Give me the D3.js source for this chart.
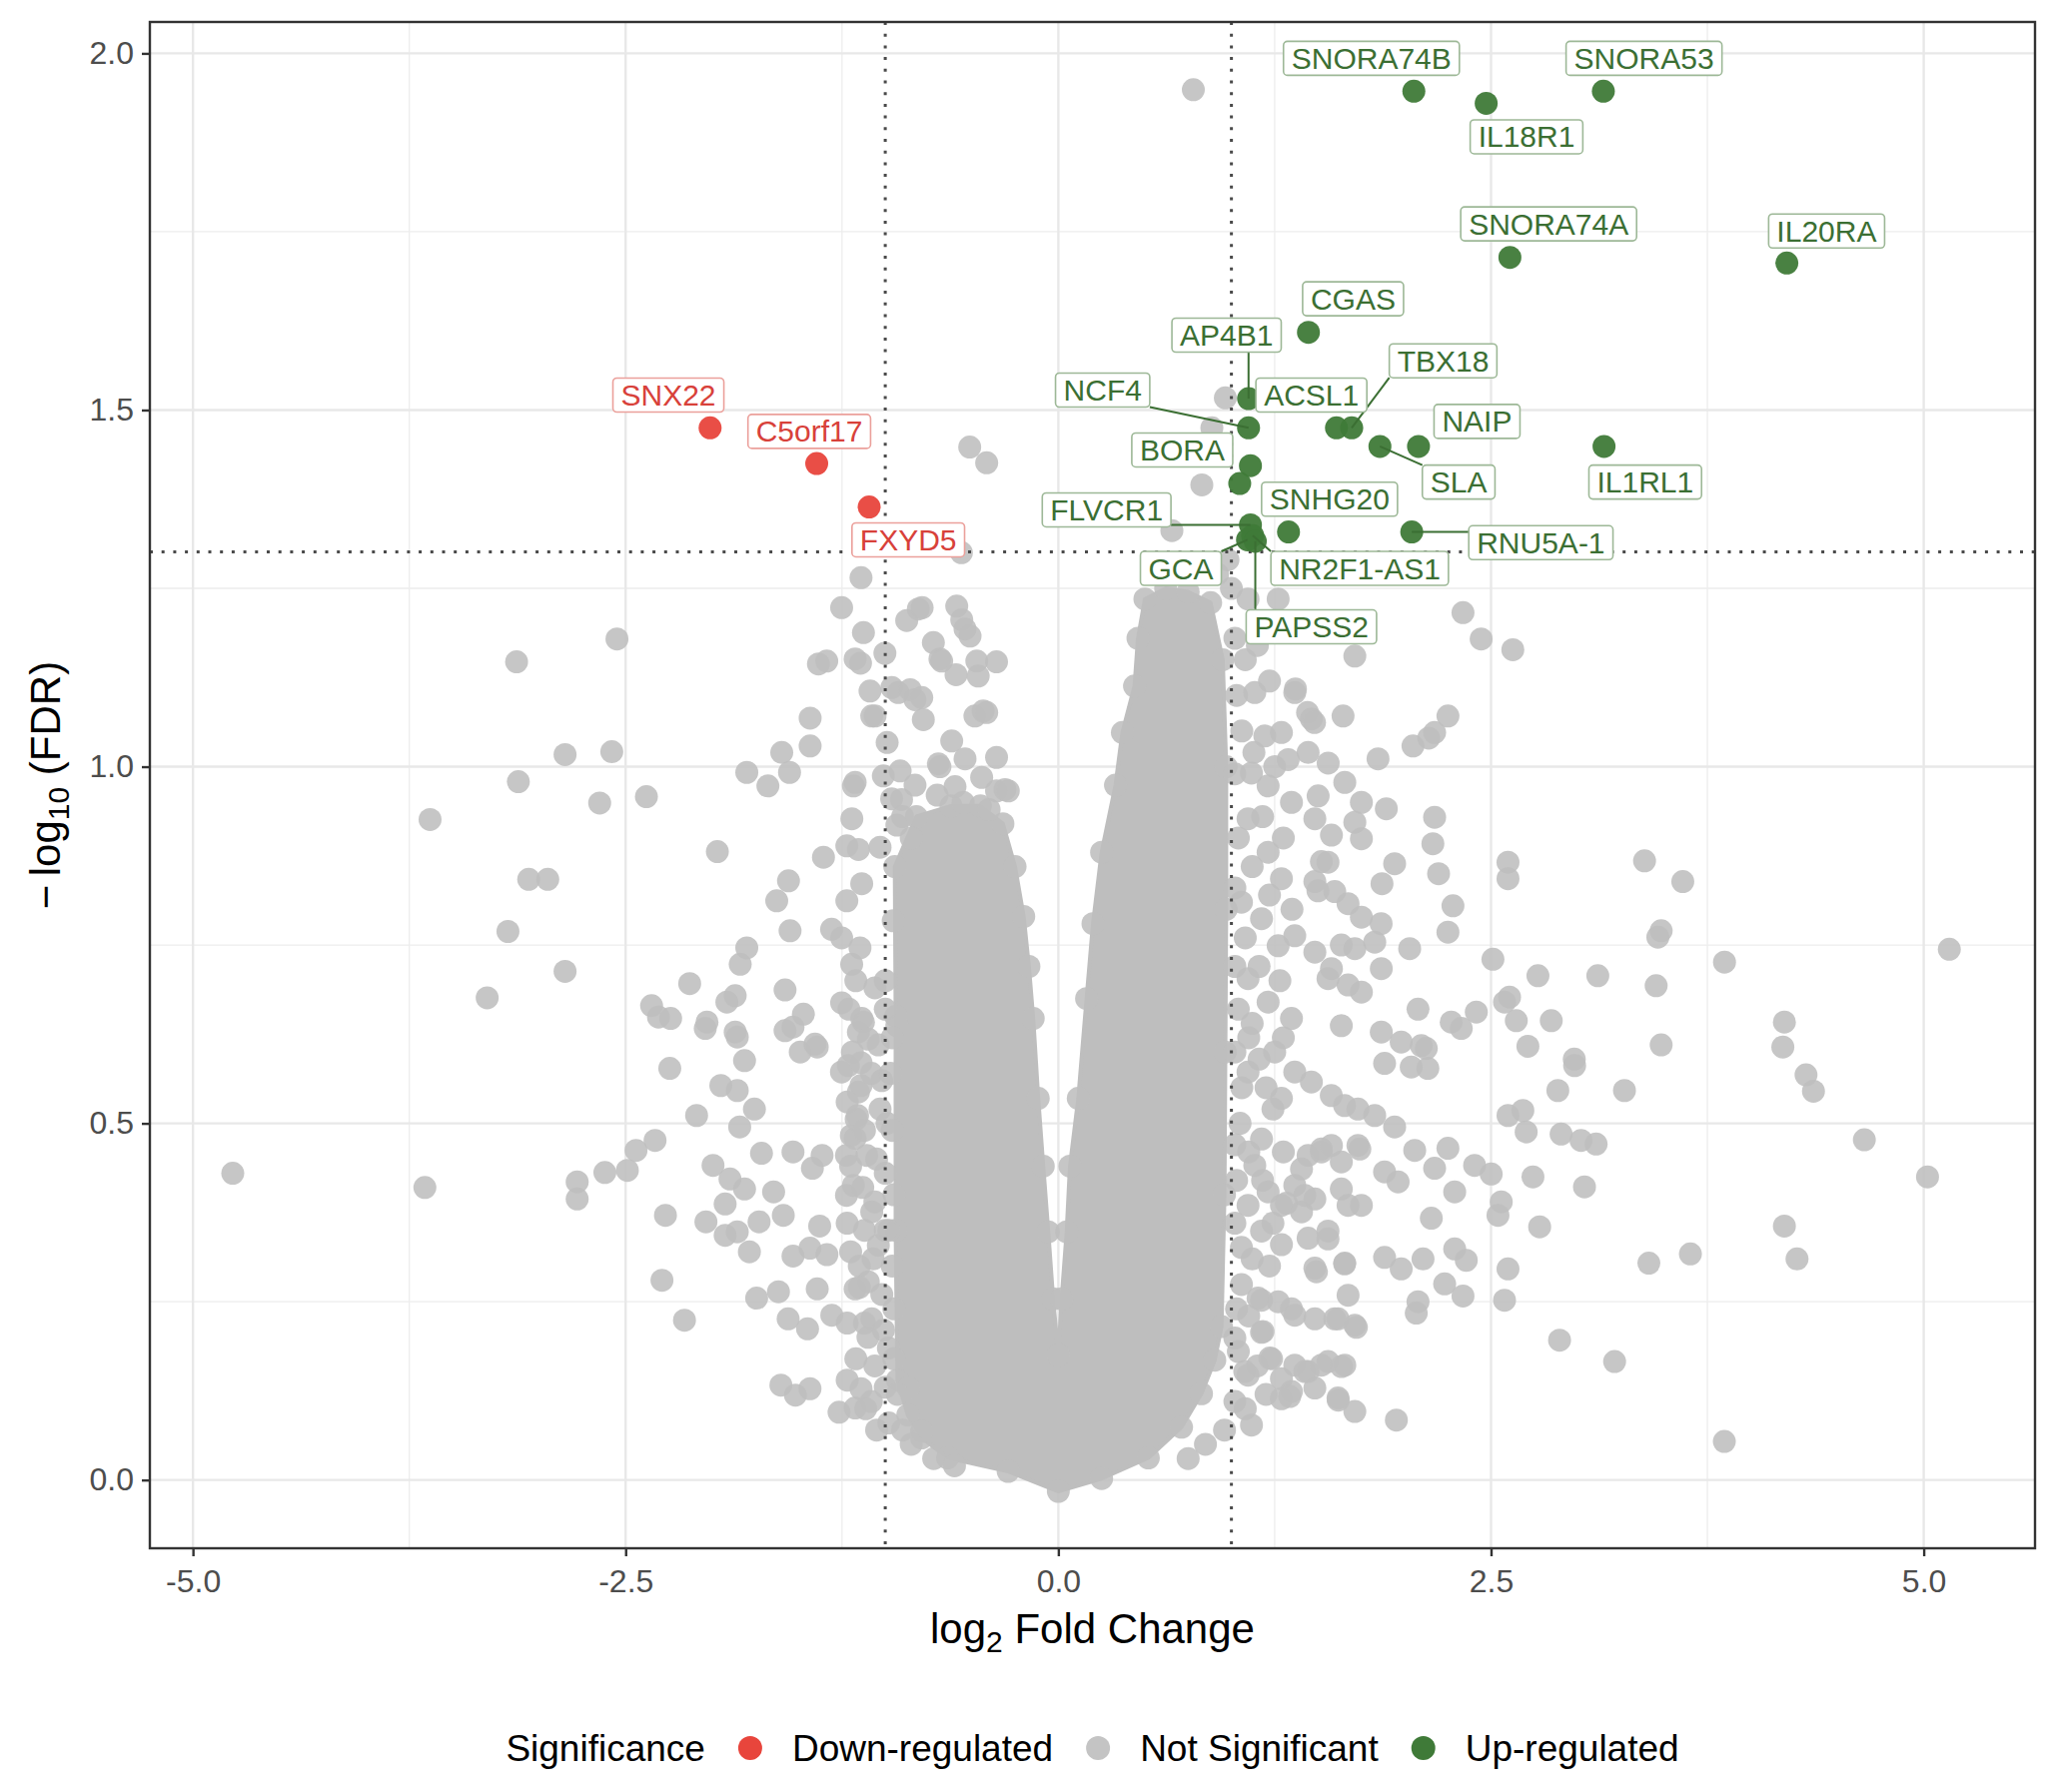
<!DOCTYPE html>
<html>
<head>
<meta charset="utf-8">
<script src="https://cdn.jsdelivr.net/npm/d3@7"></script>
<style>
  body { margin: 0; background: #fff; }
  svg text { font-family: "Liberation Sans", Arial, Helvetica, sans-serif; }
</style>
</head>
<body>
<div id="chart"></div>
<script>
// values: [log2 fold change, -log10 FDR]

// up-regulated (labelled) genes
const upGenes = ["SNORA74B", "IL18R1", "SNORA53", "SNORA74A", "IL20RA", "CGAS", "AP4B1", "NCF4", "ACSL1", "TBX18",
  "SLA", "NAIP", "IL1RL1", "BORA", "SNHG20", "FLVCR1", "RNU5A-1", "GCA", "NR2F1-AS1", "PAPSS2", ""];
const upLog2FC = [2.054, 2.472, 3.149, 2.609, 4.209, 1.445, 1.099, 1.099, 1.607, 1.695,
  1.858, 2.081, 3.153, 1.110, 1.330, 1.110, 2.042, 1.093, 1.123, 1.138, 1.048];
const upNegLogFDR = [1.947, 1.930, 1.947, 1.714, 1.706, 1.609, 1.516, 1.475, 1.475, 1.475,
  1.449, 1.449, 1.449, 1.422, 1.329, 1.339, 1.329, 1.318, 1.324, 1.316, 1.397];
// where the repelled labels ended up (data units)
const upLabelX = [1.809, 2.705, 3.384, 2.833, 4.439, 1.703, 0.972, 0.256, 1.462, 2.223,
  2.313, 2.419, 3.391, 0.716, 1.567, 0.279, 2.788, 0.708, 1.741, 1.462, null];
const upLabelY = [1.993, 1.883, 1.993, 1.761, 1.751, 1.656, 1.605, 1.528, 1.521, 1.569,
  1.399, 1.484, 1.399, 1.444, 1.375, 1.360, 1.314, 1.278, 1.278, 1.196, null];

// down-regulated genes
const downGenes = ["SNX22", "C5orf17", "FXYD5"];
const downLog2FC = [-2.012, -1.396, -1.093];
const downNegLogFDR = [1.475, 1.425, 1.364];
const downLabelX = [-2.253, -1.439, -0.867];
const downLabelY = [1.521, 1.470, 1.318];

// not significant genes, the scattered ones
const nsFarLeft = [
  [-4.77, 0.43], [-3.66, 0.41], [-3.63, 0.926], [-3.30, 0.676], [-3.18, 0.769], [-3.13, 1.147], [-3.12, 0.979],
  [-3.06, 0.842], [-2.95, 0.842], [-2.85, 1.017], [-2.85, 0.713], [-2.78, 0.418], [-2.78, 0.394], [-2.65, 0.949],
  [-2.62, 0.431], [-2.58, 1.021], [-2.55, 1.179], [-2.49, 0.434], [-2.44, 0.462], [-2.38, 0.958], [-2.35, 0.665],
  [-2.33, 0.476], [-2.31, 0.649], [-2.29, 0.280], [-2.27, 0.371], [-2.245, 0.577], [-2.24, 0.647], [-2.16, 0.224],
  [-2.13, 0.696], [-2.09, 0.511], [-2.04, 0.633], [-2.03, 0.642], [-2.036, 0.362], [-1.995, 0.441], [-1.97, 0.881],
  [-1.95, 0.553], [-1.925, 0.387], [-1.925, 0.343], [-1.915, 0.670], [-1.897, 0.422], [-1.867, 0.679], [-1.867, 0.628],
  [-1.855, 0.621], [-1.855, 0.546], [-1.855, 0.348], [-1.841, 0.495], [-1.838, 0.723], [-1.813, 0.588], [-1.813, 0.408],
  [-1.80, 0.746], [-1.80, 0.992], [-1.785, 0.320], [-1.756, 0.520], [-1.743, 0.255], [-1.729, 0.362], [-1.715, 0.458],
  [-1.678, 0.973], [-1.645, 0.404], [-1.627, 0.812], [-1.617, 0.264], [-1.603, 0.133], [-1.598, 1.020], [-1.589, 0.371],
  [-1.579, 0.687], [-1.579, 0.630], [-1.561, 0.226], [-1.559, 0.840], [-1.553, 0.992], [-1.550, 0.770], [-1.533, 0.460],
  [-1.533, 0.635], [-1.533, 0.314], [-1.519, 0.119], [-1.491, 0.600], [-1.473, 0.653], [-1.449, 0.212], [-1.435, 0.325],
  [-1.435, 0.128], [-1.434, 1.068], [-1.434, 1.029], [-1.421, 0.437], [-1.406, 0.611], [-1.393, 0.607], [-1.393, 0.268],
  [-1.386, 1.144], [-1.379, 0.356], [-1.365, 0.455], [-1.357, 0.873], [-1.338, 1.148], [-1.337, 0.316]
];
const nsLeftShoulder = [
  [-1.310, 0.772], [-1.309, 0.231], [-1.267, 0.095], [-1.253, 0.572], [-1.252, 1.223], [-1.252, 0.760], [-1.252, 0.669],
  [-1.224, 0.399], [-1.224, 0.455], [-1.222, 0.889], [-1.222, 0.812], [-1.213, 0.581], [-1.196, 0.483], [-1.194, 0.723],
  [-1.193, 0.927], [-1.184, 0.973], [-1.184, 0.413], [-1.174, 1.151], [-1.174, 0.978], [-1.174, 0.479], [-1.174, 0.101],
  [-1.168, 0.506], [-1.155, 0.884], [-1.155, 0.628], [-1.155, 0.544], [-1.146, 0.746], [-1.143, 1.145], [-1.140, 1.265],
  [-1.140, 0.553], [-1.140, 0.585], [-1.140, 0.128], [-1.136, 0.836], [-1.136, 0.647], [-1.126, 0.642], [-1.126, 1.188],
  [-1.113, 0.100], [-1.107, 0.455], [-1.098, 0.618], [-1.088, 1.106], [-1.078, 1.071], [-1.078, 0.376], [-1.059, 1.071],
  [-1.030, 0.887], [-1.011, 0.987], [-1.002, 1.159], [-0.989, 1.034], [-0.982, 0.185], [-0.962, 1.111], [-0.963, 0.955],
  [-0.954, 0.784], [-0.933, 0.918], [-0.933, 0.637], [-0.925, 1.104], [-0.914, 0.994], [-0.906, 0.954], [-1.040, 0.329],
  [-1.098, 0.278], [-1.174, 0.268], [-1.078, 0.226], [-0.867, 0.129], [-0.790, 0.068], [-1.160, 0.511], [-1.150, 0.300],
  [-1.050, 0.450], [-1.020, 0.560], [-1.100, 0.200], [-1.000, 0.700], [-0.990, 0.500], [-0.980, 0.350]
];
// the crowded band just left of the -1 cut-off
const nsLeftDense = [
  [-1.21, 0.66], [-1.17, 0.70], [-1.06, 0.69], [-1.00, 0.66], [-0.96, 0.62], [-1.04, 0.61], [-1.19, 0.60],
  [-1.08, 0.57], [-0.97, 0.57], [-1.22, 0.53], [-1.03, 0.52], [-0.96, 0.49], [-1.12, 0.49], [-1.20, 0.44],
  [-1.00, 0.43], [-0.95, 0.40], [-1.13, 0.41], [-1.06, 0.39], [-1.22, 0.36], [-1.12, 0.35], [-1.00, 0.35],
  [-0.96, 0.30], [-1.20, 0.32], [-1.07, 0.31], [-1.15, 0.27], [-1.02, 0.26], [-0.95, 0.24], [-1.22, 0.22],
  [-1.12, 0.22], [-1.01, 0.21], [-0.95, 0.17], [-1.17, 0.17], [-1.06, 0.16], [-1.22, 0.14], [-1.00, 0.13],
  [-0.93, 0.12], [-1.08, 0.11], [-0.98, 0.08], [-0.90, 0.07], [-1.05, 0.07], [-0.85, 0.05], [-0.72, 0.03],
  [-0.60, 0.02], [-0.70, 0.96], [-0.55, 0.95], [-0.40, 0.94], [-0.85, 0.90], [-0.90, 0.93]
];
const nsUpperLeft = [
  [-0.876, 1.205], [-0.856, 1.108], [-0.828, 1.094], [-0.828, 0.974], [-0.809, 1.221], [-0.789, 1.097], [-0.787, 1.223],
  [-0.780, 1.066], [-0.722, 1.174], [-0.693, 1.004], [-0.684, 1.151], [-0.684, 1.000], [-0.674, 1.148], [-0.616, 1.036],
  [-0.597, 0.972], [-0.591, 1.129], [-0.587, 1.225], [-0.558, 1.206], [-0.539, 1.193], [-0.539, 1.011], [-0.510, 1.183],
  [-0.482, 1.071], [-0.471, 1.148], [-0.463, 1.127], [-0.443, 0.985], [-0.434, 1.078], [-0.414, 1.076], [-0.357, 1.147],
  [-0.357, 1.013], [-0.357, 0.966], [-0.308, 0.968], [-0.289, 0.966], [-0.512, 1.448], [-0.414, 1.426], [-0.56, 1.30]
];
const nsTop = [[0.78, 1.949], [0.965, 1.517], [0.887, 1.475], [0.829, 1.395], [0.656, 1.331],
  [0.92, 1.27], [0.98, 1.29], [0.86, 1.28], [1.00, 1.25]];
// the crowded band just right of the +1 cut-off
const nsRightDense = [
  [1.02, 1.18], [1.08, 1.15], [1.15, 1.17], [1.03, 1.10], [1.22, 1.12], [1.06, 1.05], [1.13, 1.02], [1.02, 0.99],
  [1.25, 1.00], [1.18, 0.93], [1.04, 0.90], [1.30, 0.90], [1.12, 0.86], [1.02, 0.83], [1.22, 0.82], [1.35, 0.80],
  [1.08, 0.76], [1.02, 0.72], [1.16, 0.72], [1.28, 0.70], [1.04, 0.66], [1.12, 0.64], [1.30, 0.62], [1.02, 0.60],
  [1.16, 0.59], [1.06, 0.55], [1.24, 0.52], [1.02, 0.47], [1.10, 0.46], [1.30, 0.46], [1.03, 0.42], [1.18, 0.42],
  [1.24, 0.36], [1.02, 0.36], [1.12, 0.31], [1.22, 0.30], [1.03, 0.24], [1.10, 0.23], [1.27, 0.25], [1.04, 0.18],
  [1.15, 0.16], [1.02, 0.11], [1.08, 0.10], [0.96, 0.07], [1.20, 0.12], [0.85, 0.05], [0.75, 0.03]
];
const nsRightInner = [
  [1.096, 1.235], [1.27, 1.235], [1.135, 1.104], [1.366, 1.104], [1.193, 1.043], [1.289, 1.048], [1.462, 1.067],
  [1.443, 1.020], [1.328, 1.010], [1.559, 1.005], [1.116, 0.991], [1.212, 0.973], [1.347, 0.950], [1.501, 0.959],
  [1.655, 0.978], [1.751, 0.950], [1.482, 0.927], [1.578, 0.904], [1.713, 0.922], [1.751, 0.899], [1.096, 0.927],
  [1.212, 0.880], [1.289, 0.843], [1.520, 0.867], [1.482, 0.839], [1.597, 0.825], [1.674, 0.808], [1.751, 0.789],
  [1.058, 0.810], [1.174, 0.787], [1.270, 0.749], [1.366, 0.763], [1.482, 0.740], [1.578, 0.717], [1.674, 0.694],
  [1.713, 0.745], [1.096, 0.703], [1.212, 0.670], [1.347, 0.647], [1.713, 1.155], [1.37, 1.109], [1.44, 1.076],
  [1.48, 1.062], [1.645, 1.071], [1.847, 1.011], [2.049, 1.029], [2.14, 1.04], [2.174, 1.048], [2.251, 1.071],
  [1.895, 0.941], [1.943, 0.864], [1.870, 0.836], [1.828, 0.754], [1.865, 0.78], [2.03, 0.745], [1.558, 0.866],
  [1.50, 0.826], [1.866, 0.717], [1.751, 0.684], [1.635, 0.637], [1.866, 0.628], [1.981, 0.614], [2.097, 0.609],
  [1.558, 0.703], [1.635, 0.75], [1.096, 0.572], [1.366, 0.572], [1.289, 0.535], [1.462, 0.558], [1.174, 0.478],
  [1.25, 0.60], [1.05, 0.50], [1.10, 0.62], [1.20, 0.55]
];
const nsRightLower = [
  [1.577, 0.539], [1.654, 0.525], [1.731, 0.520], [1.443, 0.455], [1.520, 0.464], [1.635, 0.446], [1.731, 0.469],
  [1.366, 0.413], [1.289, 0.385], [1.405, 0.376], [1.482, 0.394], [1.635, 0.408], [1.674, 0.385], [1.135, 0.441],
  [1.212, 0.404], [1.096, 0.385], [1.174, 0.349], [1.289, 0.330], [1.443, 0.339], [1.558, 0.349], [1.655, 0.304],
  [1.482, 0.297], [1.674, 0.259], [1.058, 0.326], [1.154, 0.255], [1.058, 0.274], [1.347, 0.240], [1.482, 0.226],
  [1.597, 0.226], [1.713, 0.217], [1.174, 0.207], [1.232, 0.170], [1.289, 0.142], [1.366, 0.161], [1.443, 0.152],
  [1.558, 0.166], [1.655, 0.161], [1.347, 0.124], [1.482, 0.129], [1.616, 0.115], [1.713, 0.096], [1.077, 0.152],
  [1.020, 0.199], [1.289, 0.114], [1.953, 0.084], [1.116, 0.077], [1.617, 0.112], [2.251, 0.465], [2.174, 0.437],
  [2.290, 0.404], [2.405, 0.441], [2.501, 0.429], [2.155, 0.367], [2.29, 0.324], [2.357, 0.308], [2.232, 0.275],
  [2.338, 0.258], [2.078, 0.250], [2.068, 0.234], [1.885, 0.312], [1.981, 0.296], [2.107, 0.310], [1.885, 0.432],
  [1.963, 0.418], [2.059, 0.462], [1.943, 0.495], [1.828, 0.511], [1.885, 0.584], [2.039, 0.579], [2.135, 0.577],
  [2.126, 0.605], [1.742, 0.464], [1.751, 0.385], [1.558, 0.338], [1.491, 0.292], [1.654, 0.303], [1.366, 0.231],
  [1.616, 0.226], [1.722, 0.214], [1.183, 0.208], [1.222, 0.171], [1.424, 0.152], [1.520, 0.161], [1.636, 0.159],
  [1.337, 0.117], [1.174, 0.252], [1.318, 0.388], [1.424, 0.399], [1.405, 0.436], [1.520, 0.460], [1.578, 0.469],
  [1.096, 0.147]
];
const nsFarRight = [
  [2.338, 1.216], [2.443, 1.179], [2.626, 1.164], [2.174, 0.929], [2.164, 0.892], [2.197, 0.850], [2.598, 0.866],
  [2.598, 0.843], [2.28, 0.805], [2.251, 0.768], [3.387, 0.868], [3.608, 0.839], [3.483, 0.770], [3.464, 0.761],
  [3.849, 0.726], [2.511, 0.730], [2.771, 0.707], [3.117, 0.707], [3.454, 0.693], [2.078, 0.66], [2.415, 0.656],
  [2.27, 0.642], [2.328, 0.633], [2.607, 0.677], [2.578, 0.670], [2.646, 0.644], [2.848, 0.644], [2.713, 0.608],
  [3.483, 0.610], [2.981, 0.59], [5.148, 0.744], [4.195, 0.642], [4.186, 0.607], [4.32, 0.568], [4.363, 0.545],
  [4.657, 0.477], [5.022, 0.425], [4.195, 0.356], [4.268, 0.310], [3.412, 0.304], [3.652, 0.317], [3.848, 0.054],
  [2.983, 0.581], [2.886, 0.546], [3.271, 0.546], [2.598, 0.511], [2.684, 0.518], [2.703, 0.488], [2.905, 0.485],
  [3.02, 0.476], [3.107, 0.471], [2.742, 0.425], [3.040, 0.411], [2.559, 0.390], [2.54, 0.371], [2.781, 0.355],
  [2.598, 0.296], [2.578, 0.252], [2.896, 0.196], [3.214, 0.166]
];

// outline of the solid mass of thousands of overlapping non-significant points
const coreX = [0, -0.29, -0.64, -0.79, -0.87, -0.93, -0.94, -0.94, -0.945, -0.82, -0.62, -0.45, -0.32, -0.25,
  -0.2, -0.17, -0.145, -0.116, -0.087, -0.058, -0.03, 0, 0.019, 0.048, 0.067, 0.115, 0.163, 0.2, 0.25, 0.33, 0.37,
  0.44, 0.46, 0.5, 0.62, 0.75, 0.88, 0.95, 0.97, 0.97, 0.965, 0.96, 0.943, 0.904, 0.827, 0.712, 0.52, 0.25];
const coreY = [-0.016, 0.012, 0.031, 0.059, 0.091, 0.14, 0.35, 0.65, 0.86, 0.93, 0.945, 0.945, 0.92, 0.86,
  0.79, 0.72, 0.647, 0.535, 0.44, 0.348, 0.254, 0.175, 0.254, 0.348, 0.44, 0.535, 0.675, 0.78, 0.88, 0.974, 1.048,
  1.113, 1.18, 1.235, 1.25, 1.245, 1.23, 1.15, 1.0, 0.8, 0.6, 0.4, 0.215, 0.168, 0.121, 0.074, 0.031, 0.002];

// ticks and cut-offs
const xTicks = [-5, -2.5, 0, 2.5, 5];
const xMinor = [-3.75, -1.25, 1.25, 3.75];
const yTicks = [0, 0.5, 1, 1.5, 2];
const yMinor = [0.25, 0.75, 1.25, 1.75];
const fcCut = [-1, 1];
const fdrCut = -Math.log10(0.05);

const legendKeys = ["Down-regulated", "Not Significant", "Up-regulated"];
const legendColors = ["#e8453c", "#c4c4c4", "#3f7a38"];

// ---------------------------------------------------------------
var width = 2047,
  height = 1794;
var margin = { top: 22, right: 10, bottom: 244, left: 150 },
  panelW = width - margin.left - margin.right,
  panelH = height - margin.top - margin.bottom;

var redCol = "#e8453c",
  greenCol = "#3f7a38",
  greyCol = "#bebebe",
  dotR = 11.5;

let svg = d3
  .select("#chart")
  .append("svg")
  .attr("width", width)
  .attr("height", height);

svg.append("rect").attr("width", width).attr("height", height).attr("fill", "white");

let x = d3.scaleLinear().domain([-5.249, 5.643]).range([margin.left, margin.left + panelW]);
let y = d3.scaleLinear().domain([-0.0957, 2.044]).range([margin.top + panelH, margin.top]);

// grid
let grid = svg.append("g");
grid.selectAll(".xmin").data(xMinor).enter().append("line")
  .attr("x1", d => x(d)).attr("x2", d => x(d))
  .attr("y1", margin.top).attr("y2", margin.top + panelH)
  .attr("stroke", "#ededed").attr("stroke-width", 1.3);
grid.selectAll(".ymin").data(yMinor).enter().append("line")
  .attr("y1", d => y(d)).attr("y2", d => y(d))
  .attr("x1", margin.left).attr("x2", margin.left + panelW)
  .attr("stroke", "#ededed").attr("stroke-width", 1.3);
grid.selectAll(".xmaj").data(xTicks).enter().append("line")
  .attr("x1", d => x(d)).attr("x2", d => x(d))
  .attr("y1", margin.top).attr("y2", margin.top + panelH)
  .attr("stroke", "#e8e8e8").attr("stroke-width", 2.4);
grid.selectAll(".ymaj").data(yTicks).enter().append("line")
  .attr("y1", d => y(d)).attr("y2", d => y(d))
  .attr("x1", margin.left).attr("x2", margin.left + panelW)
  .attr("stroke", "#e8e8e8").attr("stroke-width", 2.4);

// the dense core of the volcano
let core = d3.zip(coreX, coreY);
svg.append("path")
  .datum(core)
  .attr("d", d3.line().x(d => x(d[0])).y(d => y(d[1])).curve(d3.curveLinearClosed))
  .attr("fill", greyCol)
  .attr("stroke", greyCol)
  .attr("stroke-width", 4)
  .attr("stroke-linejoin", "round");

// grey points; the outline vertices get a dot too so the edge looks made of points
let nsAll = [].concat(core, nsFarLeft, nsLeftShoulder, nsLeftDense, nsUpperLeft, nsTop,
  nsRightDense, nsRightInner, nsRightLower, nsFarRight);
svg.append("g")
  .selectAll("circle")
  .data(nsAll)
  .enter()
  .append("circle")
  .attr("cx", d => x(d[0]))
  .attr("cy", d => y(d[1]))
  .attr("r", dotR)
  .attr("fill", greyCol)
  .attr("fill-opacity", 0.88);

// cut-off lines
let cut = svg.append("g")
  .attr("stroke", "#4a4a4a")
  .attr("stroke-width", 3)
  .attr("stroke-dasharray", "3,8.7");
cut.selectAll(".v").data(fcCut).enter().append("line")
  .attr("x1", d => x(d)).attr("x2", d => x(d))
  .attr("y1", margin.top).attr("y2", margin.top + panelH);
cut.append("line")
  .attr("x1", margin.left).attr("x2", margin.left + panelW)
  .attr("y1", y(fdrCut)).attr("y2", y(fdrCut));

// significant points
let down = d3.zip(downGenes, downLog2FC, downNegLogFDR, downLabelX, downLabelY);
let up = d3.zip(upGenes, upLog2FC, upNegLogFDR, upLabelX, upLabelY);

svg.append("g").selectAll("circle").data(down).enter().append("circle")
  .attr("cx", d => x(d[1])).attr("cy", d => y(d[2])).attr("r", dotR)
  .attr("fill", redCol).attr("fill-opacity", 0.95);
svg.append("g").selectAll("circle").data(up).enter().append("circle")
  .attr("cx", d => x(d[1])).attr("cy", d => y(d[2])).attr("r", dotR)
  .attr("fill", greenCol).attr("fill-opacity", 0.95);

// repelled labels
let segG = svg.append("g");
let labG = svg.append("g");

function drawLabels(rows, textCol, borderCol) {
  rows.forEach(function (d) {
    if (!d[0]) return;
    let px = x(d[1]), py = y(d[2]);
    let cx = x(d[3]), cy = y(d[4]);
    let g = labG.append("g");
    let box = g.append("rect");
    let t = g.append("text")
      .attr("x", cx)
      .attr("y", cy + 10.5)
      .attr("text-anchor", "middle")
      .style("font-size", "30px")
      .attr("fill", textCol)
      .text(d[0]);
    let w = t.node().getComputedTextLength();
    let bx0 = cx - w / 2 - 8, bx1 = cx + w / 2 + 8, by0 = cy - 17, by1 = cy + 17;
    box.attr("x", bx0).attr("y", by0)
      .attr("width", bx1 - bx0).attr("height", by1 - by0)
      .attr("rx", 4)
      .attr("fill", "white")
      .attr("stroke", borderCol)
      .attr("stroke-width", 1.6);
    // leader line to the nearest point of the box
    let qx = Math.max(bx0, Math.min(bx1, px));
    let qy = Math.max(by0, Math.min(by1, py));
    if (Math.hypot(qx - px, qy - py) > 24) {
      segG.append("line")
        .attr("x1", px).attr("y1", py)
        .attr("x2", qx).attr("y2", qy)
        .attr("stroke", textCol)
        .attr("stroke-width", 2);
    }
  });
}
drawLabels(down, "#d8413a", "#eba09b");
drawLabels(up, "#3b6f33", "#9db897");

// panel border
svg.append("rect")
  .attr("x", margin.left).attr("y", margin.top)
  .attr("width", panelW).attr("height", panelH)
  .attr("fill", "none").attr("stroke", "#333333").attr("stroke-width", 2.4);

// axes
let xAxis = svg.append("g")
  .attr("transform", "translate(0," + (margin.top + panelH) + ")")
  .call(d3.axisBottom(x).tickValues(xTicks).tickFormat(d => d.toFixed(1)).tickSize(8).tickPadding(13).tickSizeOuter(0));
let yAxis = svg.append("g")
  .attr("transform", "translate(" + margin.left + ",0)")
  .call(d3.axisLeft(y).tickValues(yTicks).tickFormat(d => d.toFixed(1)).tickSize(8).tickPadding(8).tickSizeOuter(0));
[xAxis, yAxis].forEach(function (a) {
  a.select(".domain").remove();
  a.selectAll(".tick line").attr("stroke", "#333333").attr("stroke-width", 2.4);
  a.selectAll(".tick text")
    .attr("fill", "#4d4d4d")
    .style("font-size", "32px")
    .style("font-family", '"Liberation Sans", Arial, sans-serif');
});

// axis titles
let xt = svg.append("text")
  .attr("x", margin.left + panelW / 2)
  .attr("y", 1645)
  .attr("text-anchor", "middle")
  .style("font-size", "42px")
  .attr("fill", "black");
xt.append("tspan").text("log");
xt.append("tspan").attr("dy", 9).style("font-size", "30px").text("2");
xt.append("tspan").attr("dy", -9).text(" Fold Change");

let yt = svg.append("text")
  .attr("transform", "translate(60," + (margin.top + panelH / 2) + ") rotate(-90)")
  .attr("text-anchor", "middle")
  .style("font-size", "42px")
  .attr("fill", "black");
yt.append("tspan").text("\u2212\u2009log");
yt.append("tspan").attr("dy", 9).style("font-size", "30px").text("10");
yt.append("tspan").attr("dy", -9).text(" (FDR)");

// legend
let legend = svg.append("g");
let lt = legend.append("text")
  .attr("x", 0).attr("y", 0)
  .style("font-size", "37px")
  .attr("fill", "black")
  .text("Significance");
let cursor = lt.node().getComputedTextLength();
legendKeys.forEach(function (k, i) {
  cursor += 45;
  legend.append("circle")
    .attr("cx", cursor).attr("cy", -13).attr("r", 12)
    .attr("fill", legendColors[i]);
  cursor += 42;
  let t = legend.append("text")
    .attr("x", cursor).attr("y", 0)
    .style("font-size", "37px")
    .attr("fill", "black")
    .text(k);
  cursor += t.node().getComputedTextLength();
});
legend.attr("transform", "translate(" + (margin.left + panelW / 2 - cursor / 2) + ",1763)");
</script>
</body>
</html>
